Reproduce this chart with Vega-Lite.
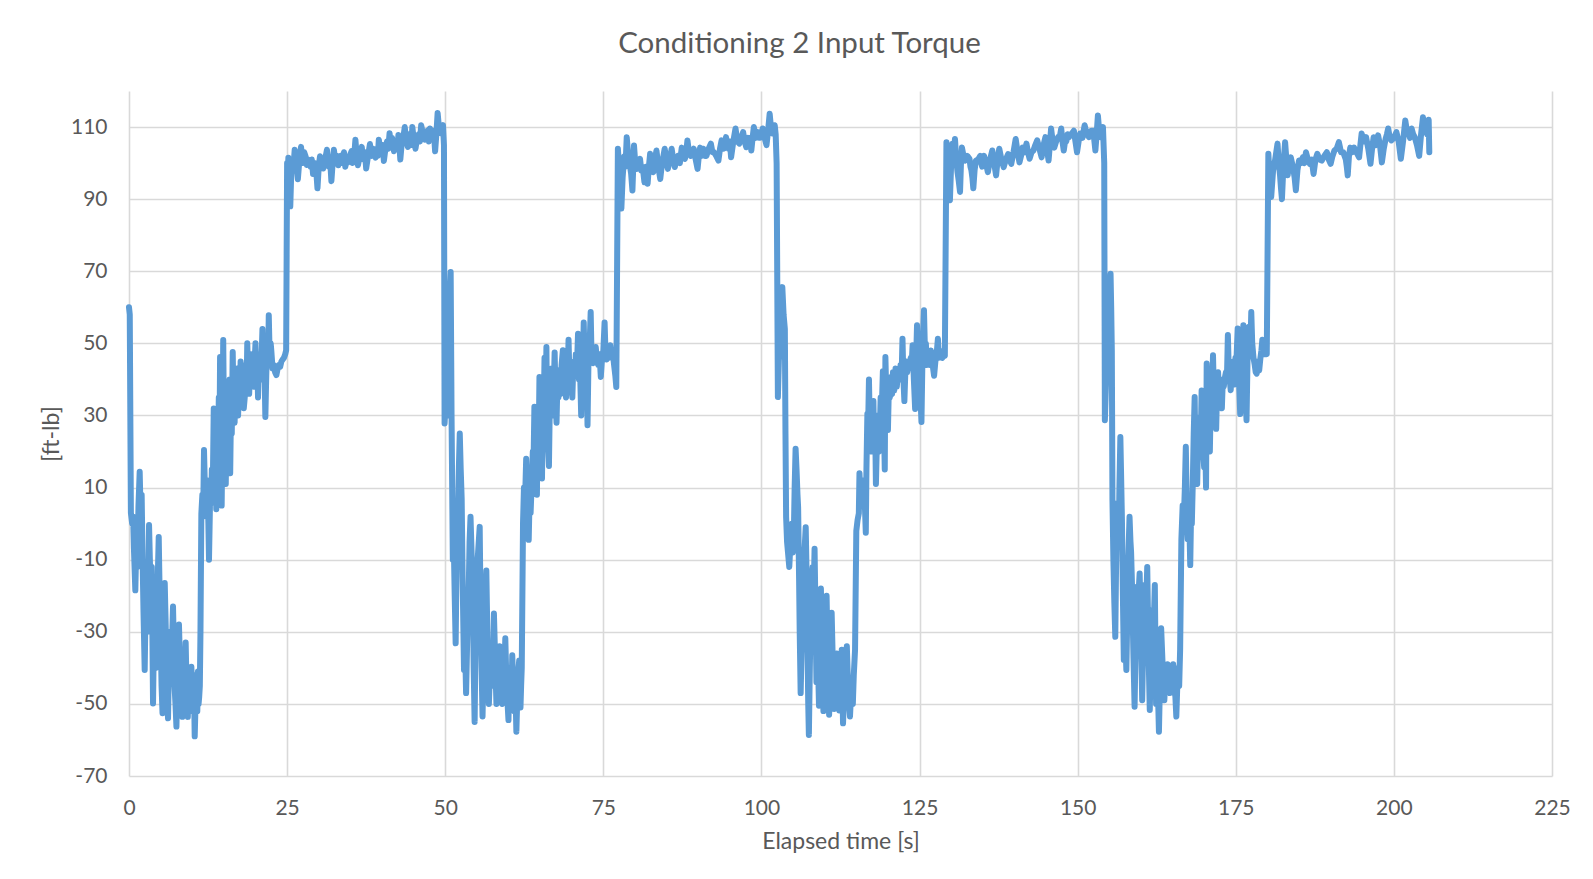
{
  "$schema": "https://vega.github.io/schema/vega-lite/v6.json",
  "autosize": {"type": "none"},
  "width": 1423,
  "height": 685,
  "padding": {"left": 129, "top": 91, "right": 41, "bottom": 103},
  "background": "white",
  "title": {
    "text": "Conditioning 2 Input Torque",
    "font": "Lato",
    "fontSize": 29.5,
    "fontWeight": "normal",
    "color": "#595959",
    "anchor": "middle",
    "baseline": "alphabetic",
    "offset": 8.5,
    "dx": -41
  },
  "data": {
    "values": [
      {"t":0,"v":60},{"t":0.12,"v":58},{"t":0.3,"v":3},{"t":0.5,"v":0},{"t":0.65,"v":2},{"t":0.8,"v":-8},{"t":1.0,"v":-18.5},{"t":1.15,"v":-6},{"t":1.3,"v":-12},{"t":1.5,"v":5},{"t":1.69,"v":14.4},{"t":1.85,"v":2},{"t":2.0,"v":8},{"t":2.15,"v":-10},{"t":2.3,"v":-25},{"t":2.48,"v":-40.6},{"t":2.65,"v":-20},{"t":2.8,"v":-15},{"t":2.95,"v":-30},{"t":3.17,"v":-0.4},{"t":3.3,"v":-10},{"t":3.45,"v":-22},{"t":3.6,"v":-12},{"t":3.8,"v":-49.9},{"t":3.95,"v":-30},{"t":4.1,"v":-25},{"t":4.25,"v":-40},{"t":4.4,"v":-35},{"t":4.55,"v":-15},{"t":4.7,"v":-3.7},{"t":4.85,"v":-20},{"t":5.0,"v":-30},{"t":5.15,"v":-45},{"t":5.3,"v":-52.6},{"t":5.5,"v":-30},{"t":5.65,"v":-16.5},{"t":5.8,"v":-28},{"t":5.9,"v":-40},{"t":6.05,"v":-48},{"t":6.17,"v":-54},{"t":6.35,"v":-35},{"t":6.5,"v":-30},{"t":6.7,"v":-42},{"t":6.85,"v":-30},{"t":6.96,"v":-23},{"t":7.1,"v":-35},{"t":7.2,"v":-45},{"t":7.35,"v":-50},{"t":7.5,"v":-56.3},{"t":7.7,"v":-40},{"t":7.9,"v":-28},{"t":8.05,"v":-38},{"t":8.2,"v":-45},{"t":8.3,"v":-35},{"t":8.44,"v":-53.6},{"t":8.6,"v":-42},{"t":8.75,"v":-48},{"t":8.96,"v":-33},{"t":9.1,"v":-45},{"t":9.3,"v":-53.6},{"t":9.45,"v":-40},{"t":9.6,"v":-45},{"t":9.75,"v":-52},{"t":9.86,"v":-39.7},{"t":10.0,"v":-46},{"t":10.1,"v":-50},{"t":10.25,"v":-42},{"t":10.39,"v":-59},{"t":10.55,"v":-48},{"t":10.7,"v":-45},{"t":10.8,"v":-52},{"t":10.9,"v":-41},{"t":11.0,"v":-50},{"t":11.1,"v":-48},{"t":11.2,"v":-45},{"t":11.3,"v":-30},
      {"t":11.44,"v":2.8},{"t":11.6,"v":8},{"t":11.75,"v":5},{"t":11.86,"v":20.4},{"t":12.0,"v":10},{"t":12.2,"v":2},{"t":12.3,"v":12},{"t":12.45,"v":8},{"t":12.55,"v":0},{"t":12.65,"v":-10},{"t":12.8,"v":5},{"t":13.0,"v":6},{"t":13.1,"v":15},{"t":13.25,"v":10},{"t":13.4,"v":31.9},{"t":13.55,"v":12},{"t":13.7,"v":20},{"t":13.8,"v":4},{"t":13.95,"v":25},{"t":14.05,"v":15},{"t":14.2,"v":35},{"t":14.3,"v":20},{"t":14.4,"v":46.2},{"t":14.5,"v":25},{"t":14.65,"v":5},{"t":14.8,"v":30},{"t":14.9,"v":50.9},{"t":15.05,"v":20},{"t":15.15,"v":35},{"t":15.3,"v":11},{"t":15.45,"v":30},{"t":15.6,"v":38},{"t":15.75,"v":22},{"t":15.9,"v":40},{"t":16.0,"v":14},{"t":16.15,"v":35},{"t":16.25,"v":25},{"t":16.4,"v":47.6},{"t":16.55,"v":30},{"t":16.7,"v":28},{"t":16.85,"v":40},{"t":17.0,"v":32},{"t":17.1,"v":43},{"t":17.25,"v":30},{"t":17.4,"v":40},{"t":17.5,"v":33},{"t":17.65,"v":45},{"t":17.8,"v":35},{"t":17.9,"v":42},{"t":18.0,"v":43},{"t":18.15,"v":32},{"t":18.3,"v":35},{"t":18.45,"v":44},{"t":18.6,"v":38},{"t":18.7,"v":50},{"t":18.85,"v":40},{"t":19.0,"v":36},{"t":19.15,"v":45},{"t":19.3,"v":40},{"t":19.45,"v":47},{"t":19.6,"v":43},{"t":19.75,"v":38},{"t":19.9,"v":46},{"t":20.0,"v":50},{"t":20.15,"v":40},{"t":20.3,"v":44},{"t":20.4,"v":35},{"t":20.55,"v":47},{"t":20.7,"v":45},{"t":20.85,"v":40},{"t":21.0,"v":48},{"t":21.1,"v":54},{"t":21.25,"v":42},{"t":21.4,"v":46},{"t":21.56,"v":29.6},{"t":21.7,"v":41},{"t":21.85,"v":50},{"t":22.0,"v":44},{"t":22.1,"v":57.8},{"t":22.25,"v":46},{"t":22.4,"v":50},{"t":22.5,"v":48},{"t":22.7,"v":43},{"t":22.9,"v":44},{"t":23.1,"v":42},{"t":23.3,"v":41.2},{"t":23.5,"v":43},{"t":23.7,"v":44},{"t":23.9,"v":43.5},{"t":24.1,"v":45},{"t":24.3,"v":45.5},{"t":24.5,"v":46},{"t":24.7,"v":47},{"t":24.85,"v":48.1},
      {"t":25.0,"v":100},{"t":25.1,"v":97},{"t":25.2,"v":101.5},{"t":25.35,"v":95},{"t":25.5,"v":88},{"t":25.65,"v":97},{"t":25.8,"v":100},{"t":26.0,"v":99},{"t":26.2,"v":103.7},{"t":26.45,"v":100},{"t":26.7,"v":95.5},{"t":26.95,"v":101},{"t":27.2,"v":104.5},{"t":27.35,"v":102},{"t":27.5,"v":100},{"t":27.7,"v":103},{"t":27.9,"v":102},{"t":28.1,"v":99.5},{"t":28.3,"v":101},{"t":28.5,"v":100},{"t":28.7,"v":99},{"t":28.9,"v":101},{"t":29.1,"v":97},{"t":29.25,"v":99},{"t":29.4,"v":100},{"t":29.6,"v":98},{"t":29.8,"v":93},{"t":30.0,"v":99},{"t":30.2,"v":101.9},{"t":30.45,"v":100},{"t":30.7,"v":98.5},{"t":31.0,"v":101},{"t":31.3,"v":103.7},{"t":31.45,"v":101},{"t":31.6,"v":99},{"t":31.8,"v":101},{"t":32.0,"v":95},{"t":32.2,"v":100},{"t":32.4,"v":103.7},{"t":32.6,"v":101},{"t":32.8,"v":100},{"t":32.95,"v":102},{"t":33.1,"v":99.4},{"t":33.3,"v":101},{"t":33.5,"v":102},{"t":33.65,"v":100},{"t":33.8,"v":101.5},{"t":34.0,"v":103},{"t":34.2,"v":99},{"t":34.4,"v":101},{"t":34.6,"v":100.2},{"t":34.9,"v":102},{"t":35.2,"v":103.3},{"t":35.35,"v":100},{"t":35.5,"v":101},{"t":35.65,"v":103},{"t":35.8,"v":106.5},{"t":36.0,"v":102},{"t":36.2,"v":99.4},{"t":36.5,"v":102},{"t":36.8,"v":104.5},{"t":36.95,"v":102},{"t":37.1,"v":101},{"t":37.3,"v":103},{"t":37.5,"v":98.5},{"t":37.8,"v":102},{"t":38.1,"v":105.3},{"t":38.25,"v":103},{"t":38.4,"v":102},{"t":38.6,"v":104},{"t":38.8,"v":102.9},{"t":39.0,"v":101.5},{"t":39.2,"v":104},{"t":39.35,"v":102},{"t":39.5,"v":106.5},{"t":39.7,"v":104},{"t":39.9,"v":103},{"t":40.1,"v":105},{"t":40.3,"v":100.6},{"t":40.55,"v":104},{"t":40.8,"v":106},{"t":41.0,"v":104},{"t":41.2,"v":108.3},{"t":41.4,"v":105},{"t":41.6,"v":107},{"t":41.9,"v":103.3},{"t":42.1,"v":106},{"t":42.3,"v":106},{"t":42.45,"v":104},{"t":42.6,"v":107.8},{"t":42.75,"v":105},{"t":42.9,"v":101},{"t":43.1,"v":105},{"t":43.3,"v":106},{"t":43.45,"v":108},{"t":43.6,"v":110},{"t":43.85,"v":106},{"t":44.1,"v":104.5},{"t":44.3,"v":108},{"t":44.5,"v":107},{"t":44.65,"v":105},{"t":44.8,"v":110},{"t":45.0,"v":107},{"t":45.3,"v":104},{"t":45.55,"v":107},{"t":45.8,"v":108},{"t":46.0,"v":106},{"t":46.2,"v":110.5},{"t":46.5,"v":108},{"t":46.8,"v":106.5},{"t":47.0,"v":108},{"t":47.2,"v":109},{"t":47.4,"v":106},{"t":47.6,"v":109.6},{"t":47.8,"v":108},{"t":48.0,"v":107},{"t":48.2,"v":109},{"t":48.4,"v":103.3},{"t":48.6,"v":108},{"t":48.8,"v":113.9},{"t":49.0,"v":110},{"t":49.3,"v":108.3},{"t":49.5,"v":110},{"t":49.65,"v":110.5},{"t":49.8,"v":105},
      {"t":49.9,"v":27.8},{"t":50.1,"v":35},{"t":50.3,"v":40},{"t":50.5,"v":30},{"t":50.6,"v":55},{"t":50.75,"v":65},{"t":50.86,"v":69.8},{"t":50.95,"v":45},{"t":51.0,"v":30},{"t":51.1,"v":10},{"t":51.2,"v":-10},{"t":51.35,"v":-5},{"t":51.5,"v":-20},{"t":51.65,"v":-33.2},{"t":51.8,"v":-10},{"t":52.0,"v":1},{"t":52.15,"v":15},{"t":52.3,"v":25},{"t":52.45,"v":15},{"t":52.6,"v":7},{"t":52.75,"v":-15},{"t":52.97,"v":-40.6},{"t":53.1,"v":-30},{"t":53.3,"v":-47},{"t":53.5,"v":-30},{"t":53.7,"v":-20},{"t":53.85,"v":-5},{"t":54.0,"v":1.9},{"t":54.2,"v":-10},{"t":54.4,"v":-25},{"t":54.5,"v":-40},{"t":54.65,"v":-55},{"t":54.8,"v":-30},{"t":55.0,"v":-13},{"t":55.2,"v":-8},{"t":55.45,"v":-0.9},{"t":55.6,"v":-25},{"t":55.75,"v":-40},{"t":55.9,"v":-53.5},{"t":56.05,"v":-40},{"t":56.2,"v":-30},{"t":56.35,"v":-20},{"t":56.5,"v":-13},{"t":56.7,"v":-35},{"t":56.9,"v":-50},{"t":57.1,"v":-40},{"t":57.3,"v":-35},{"t":57.5,"v":-45},{"t":57.7,"v":-24.9},{"t":57.9,"v":-38},{"t":58.1,"v":-50},{"t":58.3,"v":-40},{"t":58.45,"v":-45},{"t":58.6,"v":-34},{"t":58.8,"v":-44},{"t":59.0,"v":-50},{"t":59.15,"v":-40},{"t":59.3,"v":-45},{"t":59.5,"v":-31.8},{"t":59.65,"v":-42},{"t":59.8,"v":-48},{"t":60.0,"v":-54.5},{"t":60.15,"v":-40},{"t":60.3,"v":-45},{"t":60.45,"v":-50},{"t":60.6,"v":-36.5},{"t":60.75,"v":-45},{"t":60.9,"v":-52},{"t":61.05,"v":-42},{"t":61.25,"v":-57.7},{"t":61.4,"v":-48},{"t":61.5,"v":-45},{"t":61.6,"v":-40},{"t":61.7,"v":-38},{"t":61.8,"v":-46},{"t":61.9,"v":-51},{"t":62.0,"v":-45},{"t":62.1,"v":-40},
      {"t":62.3,"v":0},{"t":62.45,"v":10},{"t":62.6,"v":5},{"t":62.8,"v":18},{"t":62.95,"v":8},{"t":63.05,"v":2},{"t":63.2,"v":-4.5},{"t":63.35,"v":8},{"t":63.5,"v":3},{"t":63.7,"v":12.5},{"t":63.85,"v":20},{"t":63.95,"v":15},{"t":64.1,"v":32.4},{"t":64.25,"v":15},{"t":64.35,"v":22},{"t":64.5,"v":8},{"t":64.6,"v":25},{"t":64.75,"v":18},{"t":64.9,"v":40.7},{"t":65.0,"v":25},{"t":65.15,"v":30},{"t":65.3,"v":12.5},{"t":65.45,"v":35},{"t":65.55,"v":28},{"t":65.7,"v":46},{"t":65.85,"v":30},{"t":66.0,"v":49},{"t":66.1,"v":30},{"t":66.25,"v":22},{"t":66.4,"v":16},{"t":66.55,"v":35},{"t":66.7,"v":30},{"t":66.8,"v":43},{"t":66.95,"v":35},{"t":67.1,"v":30},{"t":67.2,"v":40},{"t":67.3,"v":47.5},{"t":67.45,"v":35},{"t":67.6,"v":28},{"t":67.75,"v":40},{"t":67.9,"v":35},{"t":68.1,"v":42.6},{"t":68.25,"v":36},{"t":68.4,"v":44},{"t":68.6,"v":48.1},{"t":68.75,"v":38},{"t":68.9,"v":42},{"t":69.1,"v":35},{"t":69.25,"v":44},{"t":69.35,"v":40},{"t":69.5,"v":51},{"t":69.65,"v":40},{"t":69.8,"v":45},{"t":69.95,"v":38},{"t":70.1,"v":35},{"t":70.25,"v":44},{"t":70.4,"v":42},{"t":70.5,"v":41},{"t":70.65,"v":47},{"t":70.8,"v":42},{"t":71.0,"v":52.7},{"t":71.15,"v":40},{"t":71.3,"v":44},{"t":71.5,"v":30},{"t":71.65,"v":45},{"t":71.75,"v":42},{"t":71.9,"v":55.8},{"t":72.05,"v":44},{"t":72.2,"v":40},{"t":72.35,"v":46},{"t":72.5,"v":27.3},{"t":72.65,"v":45},{"t":72.8,"v":48},{"t":73.0,"v":58.7},{"t":73.15,"v":45},{"t":73.25,"v":48},{"t":73.4,"v":44.5},{"t":73.6,"v":47},{"t":73.8,"v":49},{"t":74.0,"v":45},{"t":74.2,"v":44},{"t":74.4,"v":47},{"t":74.6,"v":40.7},{"t":74.8,"v":46},{"t":75.0,"v":48},{"t":75.2,"v":55.8},{"t":75.35,"v":47},{"t":75.5,"v":45.5},{"t":75.7,"v":48},{"t":75.9,"v":46},{"t":76.1,"v":49.5},{"t":76.3,"v":46},{"t":76.5,"v":47.3},{"t":76.7,"v":44},{"t":76.9,"v":41},{"t":77.05,"v":37.9},
      {"t":77.3,"v":104},{"t":77.45,"v":100},{"t":77.6,"v":92},{"t":77.85,"v":87.4},{"t":78.05,"v":96},{"t":78.3,"v":101.8},{"t":78.5,"v":99},{"t":78.7,"v":107.2},{"t":78.95,"v":102},{"t":79.2,"v":99.3},{"t":79.4,"v":97},{"t":79.6,"v":92.4},{"t":79.85,"v":104.9},{"t":80.05,"v":100},{"t":80.3,"v":98.4},{"t":80.55,"v":100},{"t":80.8,"v":101.2},{"t":81.0,"v":98},{"t":81.2,"v":99},{"t":81.35,"v":97},{"t":81.5,"v":94.7},{"t":81.75,"v":99},{"t":82.0,"v":94.3},{"t":82.2,"v":99},{"t":82.4,"v":102.6},{"t":82.65,"v":99},{"t":82.9,"v":97.5},{"t":83.15,"v":101},{"t":83.4,"v":103.5},{"t":83.7,"v":99},{"t":84.0,"v":95.6},{"t":84.15,"v":98},{"t":84.3,"v":100},{"t":84.5,"v":102},{"t":84.7,"v":104},{"t":84.95,"v":101},{"t":85.2,"v":98.4},{"t":85.5,"v":101},{"t":85.8,"v":104},{"t":86.05,"v":101},{"t":86.3,"v":98.9},{"t":86.55,"v":101},{"t":86.8,"v":102},{"t":87.1,"v":100},{"t":87.4,"v":104.3},{"t":87.65,"v":102},{"t":87.9,"v":101.2},{"t":88.1,"v":103},{"t":88.3,"v":106.3},{"t":88.55,"v":103},{"t":88.8,"v":102},{"t":89.05,"v":103},{"t":89.3,"v":104},{"t":89.6,"v":101},{"t":89.9,"v":98.4},{"t":90.1,"v":102},{"t":90.3,"v":104.3},{"t":90.55,"v":102},{"t":90.8,"v":104},{"t":91.05,"v":102},{"t":91.3,"v":102},{"t":91.65,"v":104},{"t":92.0,"v":105.4},{"t":92.25,"v":103},{"t":92.5,"v":103},{"t":92.85,"v":102},{"t":93.2,"v":100.7},{"t":93.45,"v":104},{"t":93.7,"v":106.3},{"t":94.05,"v":104},{"t":94.4,"v":107.2},{"t":94.6,"v":105},{"t":94.8,"v":104},{"t":95.0,"v":106},{"t":95.2,"v":101.6},{"t":95.55,"v":106},{"t":95.9,"v":109.6},{"t":96.2,"v":106},{"t":96.5,"v":105.4},{"t":96.8,"v":107},{"t":97.1,"v":108.6},{"t":97.35,"v":106},{"t":97.6,"v":104.4},{"t":97.9,"v":107},{"t":98.2,"v":106.8},{"t":98.4,"v":103.5},{"t":98.6,"v":107},{"t":98.8,"v":110},{"t":99.1,"v":107},{"t":99.4,"v":108.6},{"t":99.6,"v":107},{"t":99.8,"v":107},{"t":100.0,"v":108},{"t":100.2,"v":109.6},{"t":100.5,"v":107},{"t":100.8,"v":105},{"t":101.05,"v":109},{"t":101.3,"v":113.7},{"t":101.5,"v":110},{"t":101.7,"v":108.2},{"t":101.9,"v":109},{"t":102.1,"v":110.5},{"t":102.25,"v":108},{"t":102.4,"v":100},
      {"t":102.6,"v":35.1},{"t":102.75,"v":45},{"t":102.9,"v":50},{"t":103.1,"v":60},{"t":103.3,"v":65.6},{"t":103.5,"v":58},{"t":103.7,"v":54},{"t":103.8,"v":25},{"t":103.9,"v":1.9},{"t":104.05,"v":-5},{"t":104.2,"v":-8},{"t":104.4,"v":-12},{"t":104.6,"v":-5},{"t":104.8,"v":0},{"t":104.95,"v":-8},{"t":105.1,"v":-5},{"t":105.25,"v":10},{"t":105.4,"v":20.8},{"t":105.55,"v":15},{"t":105.7,"v":8},{"t":105.8,"v":4.5},{"t":105.95,"v":-15},{"t":106.05,"v":-30},{"t":106.2,"v":-47},{"t":106.35,"v":-35},{"t":106.45,"v":-25},{"t":106.6,"v":-19},{"t":106.8,"v":-8},{"t":107.0,"v":-1},{"t":107.15,"v":-15},{"t":107.3,"v":-36},{"t":107.4,"v":-50},{"t":107.5,"v":-58.6},{"t":107.65,"v":-40},{"t":107.8,"v":-25},{"t":107.9,"v":-16},{"t":108.1,"v":-12},{"t":108.25,"v":-20},{"t":108.4,"v":-7},{"t":108.55,"v":-25},{"t":108.7,"v":-44},{"t":108.9,"v":-35},{"t":109.1,"v":-50.5},{"t":109.25,"v":-30},{"t":109.4,"v":-18},{"t":109.6,"v":-35},{"t":109.8,"v":-52},{"t":109.95,"v":-38},{"t":110.1,"v":-30},{"t":110.3,"v":-20},{"t":110.5,"v":-40},{"t":110.7,"v":-53},{"t":110.9,"v":-40},{"t":111.1,"v":-24.7},{"t":111.3,"v":-40},{"t":111.5,"v":-51.4},{"t":111.7,"v":-42},{"t":111.9,"v":-36},{"t":112.1,"v":-45},{"t":112.3,"v":-51.8},{"t":112.5,"v":-42},{"t":112.7,"v":-35},{"t":112.8,"v":-45},{"t":112.9,"v":-55.4},{"t":113.05,"v":-48},{"t":113.2,"v":-45},{"t":113.35,"v":-38},{"t":113.5,"v":-34},{"t":113.7,"v":-45},{"t":113.85,"v":-50},{"t":114.0,"v":-53.5},{"t":114.15,"v":-48},{"t":114.3,"v":-45},{"t":114.45,"v":-50},{"t":114.6,"v":-42},{"t":114.8,"v":-35},
      {"t":115.0,"v":-2},{"t":115.2,"v":1},{"t":115.4,"v":2.9},{"t":115.5,"v":14},{"t":115.65,"v":8},{"t":115.8,"v":8},{"t":115.95,"v":12},{"t":116.1,"v":4.8},{"t":116.3,"v":8},{"t":116.5,"v":-2.5},{"t":116.6,"v":15},{"t":116.75,"v":30.5},{"t":116.85,"v":25},{"t":117.0,"v":40},{"t":117.1,"v":30},{"t":117.25,"v":25},{"t":117.4,"v":20},{"t":117.55,"v":30},{"t":117.7,"v":34},{"t":117.85,"v":20},{"t":118.0,"v":25},{"t":118.1,"v":11},{"t":118.25,"v":22},{"t":118.4,"v":30},{"t":118.55,"v":20},{"t":118.7,"v":25},{"t":118.85,"v":35},{"t":119.0,"v":30},{"t":119.2,"v":42.3},{"t":119.35,"v":30},{"t":119.5,"v":15},{"t":119.6,"v":46.2},{"t":119.75,"v":35},{"t":119.9,"v":30},{"t":120.0,"v":26},{"t":120.15,"v":38},{"t":120.3,"v":35},{"t":120.5,"v":40.7},{"t":120.65,"v":36},{"t":120.8,"v":42},{"t":121.0,"v":37},{"t":121.2,"v":43},{"t":121.4,"v":38},{"t":121.6,"v":42.3},{"t":121.8,"v":40},{"t":122.0,"v":44},{"t":122.15,"v":40},{"t":122.3,"v":51.3},{"t":122.45,"v":40},{"t":122.6,"v":34},{"t":122.75,"v":42},{"t":122.9,"v":45},{"t":123.05,"v":42},{"t":123.2,"v":45},{"t":123.4,"v":43},{"t":123.6,"v":46},{"t":123.75,"v":44},{"t":123.9,"v":49.5},{"t":124.1,"v":40},{"t":124.3,"v":31.8},{"t":124.45,"v":45},{"t":124.6,"v":55},{"t":124.75,"v":45},{"t":124.9,"v":42},{"t":125.0,"v":40},{"t":125.15,"v":35},{"t":125.3,"v":28.2},{"t":125.45,"v":45},{"t":125.55,"v":52},{"t":125.7,"v":59.2},{"t":125.85,"v":48},{"t":126.0,"v":50},{"t":126.15,"v":44},{"t":126.3,"v":45},{"t":126.5,"v":47},{"t":126.65,"v":44},{"t":126.8,"v":48},{"t":127.0,"v":45},{"t":127.15,"v":43},{"t":127.3,"v":41},{"t":127.5,"v":45},{"t":127.7,"v":47},{"t":127.9,"v":51.3},{"t":128.05,"v":46},{"t":128.2,"v":48},{"t":128.4,"v":46.6},{"t":128.6,"v":46},{"t":128.8,"v":47},{"t":129.0,"v":46.6},
      {"t":129.25,"v":105.8},{"t":129.5,"v":97},{"t":129.8,"v":89.7},{"t":130.0,"v":100},{"t":130.2,"v":105.4},{"t":130.4,"v":103},{"t":130.6,"v":106.7},{"t":130.8,"v":101},{"t":131.0,"v":97.5},{"t":131.2,"v":95},{"t":131.4,"v":92},{"t":131.55,"v":100},{"t":131.7,"v":104.3},{"t":131.95,"v":102},{"t":132.2,"v":100.7},{"t":132.55,"v":102},{"t":132.9,"v":101.2},{"t":133.05,"v":99},{"t":133.2,"v":98},{"t":133.35,"v":96},{"t":133.5,"v":93},{"t":133.7,"v":98},{"t":133.9,"v":100.7},{"t":134.25,"v":101},{"t":134.6,"v":102},{"t":134.75,"v":100},{"t":134.9,"v":99},{"t":135.05,"v":101},{"t":135.2,"v":102},{"t":135.5,"v":100},{"t":135.8,"v":97.5},{"t":136.15,"v":101},{"t":136.5,"v":103.5},{"t":136.8,"v":100},{"t":137.1,"v":96.6},{"t":137.35,"v":101},{"t":137.6,"v":104},{"t":137.95,"v":101},{"t":138.3,"v":98.9},{"t":138.65,"v":101},{"t":139.0,"v":102.5},{"t":139.25,"v":101},{"t":139.5,"v":99.8},{"t":139.85,"v":103},{"t":140.2,"v":106.7},{"t":140.5,"v":103},{"t":140.8,"v":100.2},{"t":141.05,"v":102},{"t":141.3,"v":104.3},{"t":141.6,"v":103},{"t":141.9,"v":105.4},{"t":142.15,"v":103},{"t":142.4,"v":101.2},{"t":142.7,"v":103},{"t":143.0,"v":103.5},{"t":143.3,"v":105},{"t":143.6,"v":106.3},{"t":143.95,"v":104},{"t":144.3,"v":101.6},{"t":144.6,"v":105},{"t":144.9,"v":107.2},{"t":145.15,"v":104},{"t":145.4,"v":100.7},{"t":145.6,"v":105},{"t":145.8,"v":109.6},{"t":146.05,"v":106},{"t":146.3,"v":104.3},{"t":146.6,"v":106},{"t":146.9,"v":107.2},{"t":147.15,"v":107},{"t":147.4,"v":109.6},{"t":147.6,"v":106},{"t":147.8,"v":103.5},{"t":148.0,"v":106},{"t":148.2,"v":106},{"t":148.4,"v":108},{"t":148.6,"v":107.2},{"t":149.0,"v":108},{"t":149.4,"v":109},{"t":149.65,"v":106},{"t":149.9,"v":103},{"t":150.15,"v":106},{"t":150.4,"v":108.2},{"t":150.75,"v":107},{"t":151.1,"v":110.5},{"t":151.45,"v":108},{"t":151.8,"v":107.2},{"t":152.15,"v":109},{"t":152.5,"v":109},{"t":152.65,"v":106},{"t":152.8,"v":103.5},{"t":153.0,"v":108},{"t":153.2,"v":113.2},{"t":153.4,"v":109},{"t":153.6,"v":107.2},{"t":153.8,"v":109},{"t":154.0,"v":110},{"t":154.2,"v":100},
      {"t":154.3,"v":28.7},{"t":154.5,"v":40},{"t":154.7,"v":45},{"t":154.9,"v":55},{"t":155.05,"v":62},{"t":155.2,"v":69.3},{"t":155.3,"v":60},{"t":155.4,"v":48},{"t":155.5,"v":6.6},{"t":155.65,"v":-10},{"t":155.8,"v":-22},{"t":155.95,"v":-31.4},{"t":156.05,"v":-15},{"t":156.2,"v":5.6},{"t":156.35,"v":0},{"t":156.5,"v":-3.6},{"t":156.6,"v":10},{"t":156.75,"v":24},{"t":156.85,"v":15},{"t":157.0,"v":1},{"t":157.15,"v":-20},{"t":157.3,"v":-37.8},{"t":157.5,"v":-30},{"t":157.7,"v":-40.6},{"t":157.85,"v":-25},{"t":158.0,"v":-10},{"t":158.2,"v":1.9},{"t":158.35,"v":-5},{"t":158.45,"v":-8},{"t":158.6,"v":-17.5},{"t":158.8,"v":-35},{"t":159.0,"v":-50.8},{"t":159.15,"v":-35},{"t":159.25,"v":-25},{"t":159.4,"v":-17.5},{"t":159.6,"v":-20},{"t":159.8,"v":-13.8},{"t":160.0,"v":-30},{"t":160.2,"v":-49},{"t":160.4,"v":-30},{"t":160.6,"v":-17},{"t":160.8,"v":-25},{"t":161.0,"v":-12},{"t":161.2,"v":-35},{"t":161.4,"v":-51.7},{"t":161.6,"v":-35},{"t":161.8,"v":-24},{"t":162.0,"v":-30},{"t":162.2,"v":-17},{"t":162.3,"v":-35},{"t":162.4,"v":-50},{"t":162.6,"v":-40},{"t":162.85,"v":-57.7},{"t":163.0,"v":-45},{"t":163.2,"v":-29},{"t":163.45,"v":-40},{"t":163.7,"v":-49},{"t":163.9,"v":-42},{"t":164.05,"v":-45},{"t":164.2,"v":-39},{"t":164.4,"v":-44},{"t":164.6,"v":-47},{"t":164.8,"v":-42},{"t":165.0,"v":-45},{"t":165.1,"v":-39},{"t":165.3,"v":-45},{"t":165.45,"v":-48},{"t":165.6,"v":-53.5},{"t":165.75,"v":-45},{"t":165.9,"v":-40},{"t":166.05,"v":-45},{"t":166.2,"v":-35},
      {"t":166.4,"v":-4.3},{"t":166.6,"v":5},{"t":166.8,"v":2},{"t":166.95,"v":10},{"t":167.1,"v":21.3},{"t":167.25,"v":5},{"t":167.4,"v":-4.3},{"t":167.6,"v":5},{"t":167.8,"v":-11.5},{"t":167.95,"v":5},{"t":168.05,"v":0},{"t":168.2,"v":11},{"t":168.35,"v":25},{"t":168.5,"v":35.1},{"t":168.6,"v":20},{"t":168.75,"v":15},{"t":168.9,"v":11},{"t":169.05,"v":25},{"t":169.15,"v":20},{"t":169.3,"v":29.6},{"t":169.45,"v":22},{"t":169.6,"v":36.9},{"t":169.75,"v":25},{"t":169.85,"v":20},{"t":170.0,"v":15.6},{"t":170.15,"v":25},{"t":170.3,"v":10},{"t":170.4,"v":44.4},{"t":170.55,"v":30},{"t":170.7,"v":25},{"t":170.9,"v":20},{"t":171.05,"v":35},{"t":171.2,"v":32},{"t":171.4,"v":46.7},{"t":171.55,"v":35},{"t":171.7,"v":38},{"t":171.9,"v":26.3},{"t":172.05,"v":38},{"t":172.2,"v":42},{"t":172.35,"v":36},{"t":172.5,"v":40},{"t":172.65,"v":38},{"t":172.8,"v":32},{"t":172.95,"v":40},{"t":173.1,"v":38},{"t":173.3,"v":40.7},{"t":173.45,"v":42},{"t":173.6,"v":40},{"t":173.75,"v":52.3},{"t":173.9,"v":42},{"t":174.05,"v":40},{"t":174.2,"v":37},{"t":174.35,"v":44},{"t":174.5,"v":40},{"t":174.65,"v":45},{"t":174.8,"v":38.6},{"t":174.95,"v":46},{"t":175.1,"v":45},{"t":175.3,"v":54.1},{"t":175.45,"v":42},{"t":175.55,"v":38},{"t":175.7,"v":30.4},{"t":175.85,"v":45},{"t":176.0,"v":48},{"t":176.2,"v":55},{"t":176.35,"v":45},{"t":176.5,"v":38},{"t":176.7,"v":28.7},{"t":176.85,"v":45},{"t":177.0,"v":50},{"t":177.1,"v":54.6},{"t":177.3,"v":48},{"t":177.45,"v":58.7},{"t":177.6,"v":50},{"t":177.8,"v":46},{"t":178.0,"v":44},{"t":178.15,"v":42},{"t":178.3,"v":41.6},{"t":178.5,"v":45},{"t":178.7,"v":42.5},{"t":178.9,"v":46},{"t":179.05,"v":48},{"t":179.2,"v":51},{"t":179.4,"v":47},{"t":179.6,"v":47},{"t":179.75,"v":48},{"t":179.9,"v":47},
      {"t":180.15,"v":102.6},{"t":180.35,"v":96},{"t":180.6,"v":90.6},{"t":180.9,"v":98},{"t":181.2,"v":100.7},{"t":181.4,"v":103},{"t":181.6,"v":105.4},{"t":181.8,"v":100},{"t":182.0,"v":96.6},{"t":182.15,"v":93},{"t":182.3,"v":90},{"t":182.55,"v":100},{"t":182.8,"v":105.8},{"t":183.0,"v":101},{"t":183.2,"v":96.6},{"t":183.45,"v":100},{"t":183.7,"v":101.6},{"t":183.9,"v":100},{"t":184.1,"v":98.4},{"t":184.3,"v":96},{"t":184.5,"v":92.5},{"t":184.75,"v":98},{"t":185.0,"v":100.7},{"t":185.3,"v":100},{"t":185.6,"v":101.6},{"t":185.85,"v":100},{"t":186.1,"v":103},{"t":186.4,"v":101},{"t":186.7,"v":99.8},{"t":187.0,"v":101},{"t":187.3,"v":97},{"t":187.6,"v":101},{"t":187.9,"v":102.6},{"t":188.25,"v":101},{"t":188.6,"v":100.7},{"t":189.0,"v":102},{"t":189.4,"v":103},{"t":189.7,"v":101},{"t":190.0,"v":99.8},{"t":190.3,"v":102},{"t":190.6,"v":103.5},{"t":190.95,"v":104},{"t":191.3,"v":105.8},{"t":191.65,"v":103},{"t":192.0,"v":103},{"t":192.2,"v":102},{"t":192.4,"v":101},{"t":192.55,"v":99},{"t":192.7,"v":96.6},{"t":192.9,"v":102},{"t":193.1,"v":104.3},{"t":193.4,"v":103},{"t":193.7,"v":104.3},{"t":194.1,"v":103},{"t":194.5,"v":101.6},{"t":194.7,"v":105},{"t":194.9,"v":108.2},{"t":195.25,"v":106},{"t":195.6,"v":107.2},{"t":195.95,"v":104},{"t":196.3,"v":99.8},{"t":196.55,"v":104},{"t":196.8,"v":107.2},{"t":197.15,"v":105},{"t":197.5,"v":107.7},{"t":197.8,"v":105},{"t":198.1,"v":100.2},{"t":198.4,"v":104},{"t":198.7,"v":106.8},{"t":198.9,"v":108},{"t":199.1,"v":109.6},{"t":199.35,"v":107},{"t":199.6,"v":106.3},{"t":200.0,"v":107},{"t":200.4,"v":108.6},{"t":200.75,"v":106},{"t":201.1,"v":101.2},{"t":201.45,"v":106},{"t":201.8,"v":111.8},{"t":202.05,"v":109},{"t":202.3,"v":108.6},{"t":202.55,"v":107},{"t":202.8,"v":109.6},{"t":203.05,"v":108},{"t":203.3,"v":107.2},{"t":203.65,"v":105},{"t":204.0,"v":102},{"t":204.3,"v":108},{"t":204.6,"v":112.7},{"t":204.8,"v":110},{"t":205.0,"v":110},{"t":205.25,"v":108},{"t":205.5,"v":112},{"t":205.6,"v":103}
    ]
  },
  "mark": {"type": "line", "color": "#5B9BD5", "strokeWidth": 6, "strokeJoin": "round", "strokeCap": "round", "clip": false},
  "encoding": {
    "x": {
      "field": "t", "type": "quantitative",
      "scale": {"domain": [0, 225], "nice": false, "zero": false},
      "axis": {"values": [0,25,50,75,100,125,150,175,200,225], "title": "Elapsed time [s]", "labelPadding": 21, "titlePadding": 12, "labelFlush": false}
    },
    "y": {
      "field": "v", "type": "quantitative",
      "scale": {"domain": [-70, 120], "nice": false, "zero": false},
      "axis": {"values": [-70,-50,-30,-10,10,30,50,70,90,110], "title": "[ft-lb]", "labelPadding": 22, "titlePadding": 7, "labelExpr": "datum.value + ''"}
    }
  },
  "config": {
    "view": {"stroke": null},
    "axis": {
      "domain": false,
      "ticks": false,
      "grid": true,
      "gridColor": "#d9d9d9",
      "gridWidth": 1.6,
      "labelFont": "Lato",
      "labelFontSize": 21,
      "labelColor": "#595959",
      "titleFont": "Lato",
      "titleFontSize": 23,
      "titleFontWeight": "normal",
      "titleColor": "#595959"
    }
  }
}
